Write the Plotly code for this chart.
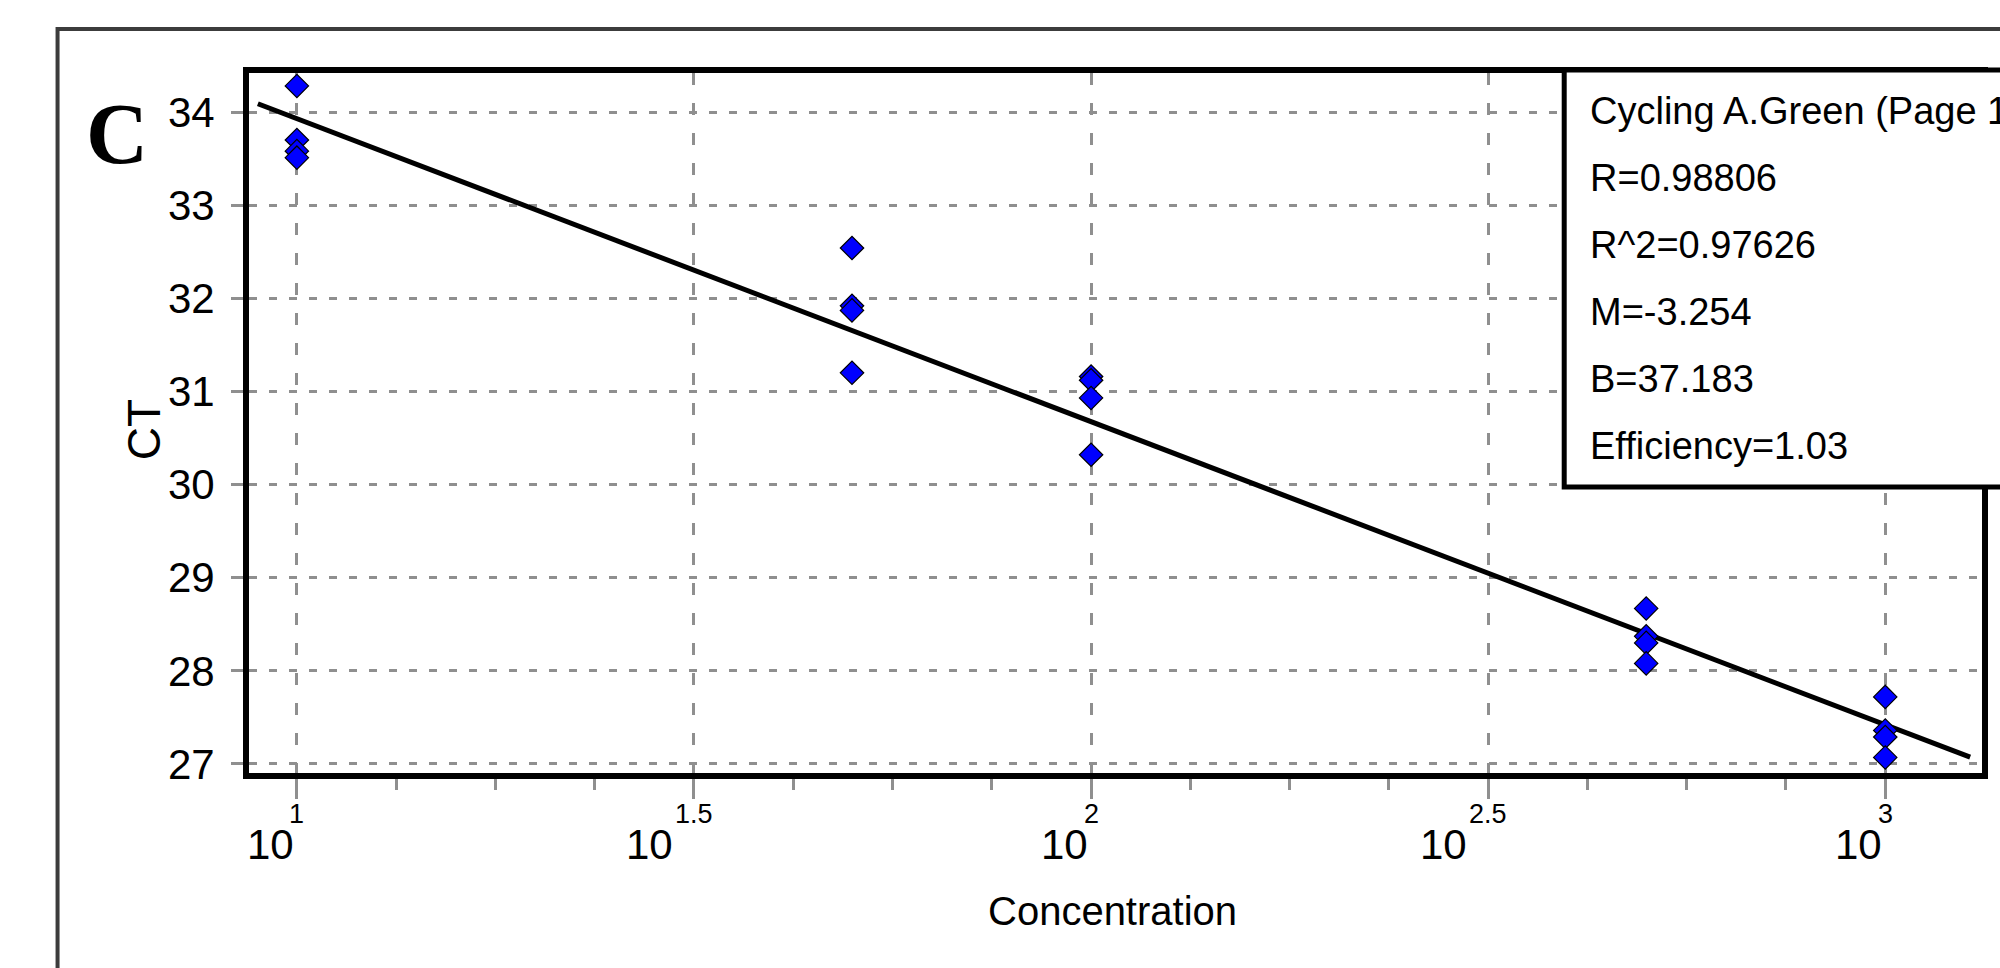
import math
import plotly.graph_objects as go

# ---------------- data ----------------
conc_levels = [10, 50, 100, 500, 1000]
ct_10 = [34.28, 33.70, 33.58, 33.51]
ct_50 = [32.54, 31.92, 31.87, 31.20]
ct_100 = [31.16, 31.12, 30.93, 30.32]
ct_500 = [28.67, 28.37, 28.30, 28.08]
ct_1000 = [27.72, 27.36, 27.29, 27.07]

slope = -3.254
intercept = 37.183
fit_conc = [8.93, 1279.0]          # ends of the drawn regression line

legend_lines = ["Cycling A.Green (Page 1)", "R=0.98806", "R^2=0.97626",
                "M=-3.254", "B=37.183", "Efficiency=1.03"]

y_ticks = [27, 28, 29, 30, 31, 32, 33, 34]
x_tick_exponents = ["1", "1.5", "2", "2.5", "3"]
panel_letter = "C"
x_title = "Concentration"
y_title = "CT"

# ---------------- layout geometry (pixels) ----------------
W, H = 2000, 968
L, R, T, B = 249, 13, 73, 195
PW, PH = W - L - R, H - T - B


def px_x(px):
    return (px - L) / PW


def px_y(py):
    return (H - B - py) / PH


FONT = "Liberation Sans, Arial, sans-serif"
SERIF = "Liberation Serif, Times New Roman, serif"
GRID = "#8f8f8f"

groups = [ct_10, ct_50, ct_100, ct_500, ct_1000]
xs, ys = [], []
for c, g in zip(conc_levels, groups):
    for v in g:
        xs.append(c)
        ys.append(v)

fit_ct = [slope * math.log10(c) + intercept for c in fit_conc]

fig = go.Figure()
fig.add_trace(go.Scatter(x=fit_conc, y=fit_ct, mode="lines",
                         line=dict(color="black", width=5), hoverinfo="skip",
                         showlegend=False))
fig.add_trace(go.Scatter(x=xs, y=ys, mode="markers",
                         marker=dict(symbol="diamond", size=18, color="#0000ff",
                                     line=dict(color="black", width=1.2)),
                         showlegend=False))

major_vals = [10 ** float(e) for e in x_tick_exponents]
minor_vals = [10 ** (1 + k / 8) for k in range(0, 17) if (k % 4) != 0]

fig.update_xaxes(type="log", range=[0.9397, 3.1218],
                 tickvals=major_vals, showticklabels=False,
                 ticks="outside", ticklen=20, tickwidth=3, tickcolor=GRID,
                 showgrid=True, gridcolor=GRID, gridwidth=3, griddash="12px,18px",
                 minor=dict(tickvals=minor_vals, ticks="outside", ticklen=11,
                            tickwidth=3, tickcolor=GRID, showgrid=False),
                 showline=True, linecolor="black", linewidth=6, mirror=True,
                 zeroline=False)
fig.update_yaxes(range=[26.903, 34.419], tickvals=y_ticks,
                 ticks="outside", ticklen=12, tickwidth=3, tickcolor=GRID,
                 ticklabelstandoff=8,
                 tickfont=dict(family=FONT, size=42, color="black"),
                 showgrid=True, gridcolor=GRID, gridwidth=3, griddash="8px,12px",
                 showline=True, linecolor="black", linewidth=6, mirror=True,
                 zeroline=False)

ann = []
# x tick labels: "10" with the exponent centred on the tick
for e, v in zip(x_tick_exponents, major_vals):
    shift = -1 if len(e) == 1 else -19
    ann.append(dict(x=math.log10(v), xref="x", y=px_y(844), yref="paper",
                    text="10", showarrow=False, xanchor="right", yanchor="middle",
                    xshift=shift, font=dict(family=FONT, size=42, color="black")))
    ann.append(dict(x=math.log10(v), xref="x", y=px_y(814), yref="paper",
                    text=e, showarrow=False, xanchor="center", yanchor="middle",
                    font=dict(family=FONT, size=27, color="black")))

ann.append(dict(x=px_x(1115), y=px_y(911), xref="paper", yref="paper",
                text=x_title, showarrow=False, xanchor="center", yanchor="middle",
                font=dict(family=FONT, size=40, color="black")))
ann.append(dict(x=px_x(144), y=px_y(430), xref="paper", yref="paper",
                text=y_title, showarrow=False, textangle=-90,
                xanchor="center", yanchor="middle",
                font=dict(family=FONT, size=46, color="black")))
ann.append(dict(x=px_x(117), y=px_y(134), xref="paper", yref="paper",
                text=panel_letter, showarrow=False, xanchor="center", yanchor="middle",
                font=dict(family=SERIF, size=86, color="black", weight="bold")))

for i, line in enumerate(legend_lines):
    ann.append(dict(x=px_x(1592), y=px_y(111 + 67 * i), xref="paper", yref="paper",
                    text=line, showarrow=False, xanchor="left", yanchor="middle",
                    font=dict(family=FONT, size=38, color="black")))

shapes = [
    # outer frame of the figure panel
    dict(type="rect", xref="paper", yref="paper",
         x0=px_x(57), x1=px_x(2030), y0=px_y(1010), y1=px_y(29),
         line=dict(color="#3c3c3c", width=4), fillcolor="rgba(0,0,0,0)", layer="below"),
    # statistics box
    dict(type="rect", xref="paper", yref="paper",
         x0=px_x(1568), x1=px_x(2030), y0=px_y(487), y1=px_y(70),
         line=dict(color="black", width=5), fillcolor="white", layer="above"),
]

fig.update_layout(width=W, height=H, margin=dict(l=L, r=R, t=T, b=B),
                  paper_bgcolor="white", plot_bgcolor="white",
                  annotations=ann, shapes=shapes, showlegend=False)

fig.write_html("out.html", config=dict(displayModeBar=False),
               post_script="document.body.style.margin='0';document.body.style.overflow='hidden';")
